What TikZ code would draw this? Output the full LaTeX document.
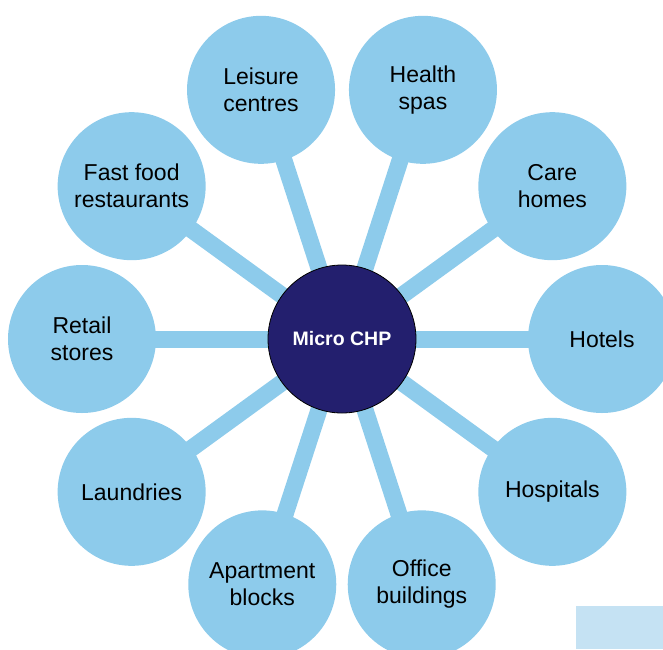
\documentclass[tikz,border=0pt]{standalone}
\usepackage{fontspec}
\setmainfont{Liberation Sans}
\usepackage{tikz}
\usetikzlibrary{positioning, calc, backgrounds}
\usepackage{xcolor}
\definecolor{siteblue}{RGB}{141,203,235}
\definecolor{chpnavy}{RGB}{35,31,110}
\definecolor{paleblue}{RGB}{197,226,243}

\begin{document}
\begin{tikzpicture}[x=1pt, y=1pt,
  hub/.style={circle, draw=black, line width=0.8pt, fill=chpnavy, minimum size=148pt, inner sep=0pt, text=white, font=\fontsize{19.5}{23}\selectfont\bfseries},
  site/.style={circle, fill=siteblue, minimum size=148pt, inner sep=0pt, align=center, font=\fontsize{23}{27}\selectfont},
  spoke/.style={draw=siteblue, line width=17pt}
]
    \useasboundingbox (-342,-310) rectangle (321,339);

    % Hub
    \node[hub] (chp) at (0,0) {Micro CHP};

    % Sites round the hub
    \node[site] (hotels) at (0:260) {Hotels};
    \node[site] (care) at (36:260) {Care\\homes};
    \node[site] (health) at (72:262) {Health\\spas};
    \node[site] (leisure) at (108:262) {Leisure\\centres};
    \node[site] (fastfood) at (144:260) {Fast food\\restaurants};
    \node[site] (retail) at (180:260) {Retail\\stores};
    \node[site] (laundries) at (216:260) {Laundries};
    \node[site] (apartment) at (252:258) {Apartment\\blocks};
    \node[site] (office) at (288:258) {Office\\buildings};
    \node[site] (hospitals) at (324:260) {Hospitals};

    % Spokes behind the circles
    \begin{scope}[on background layer]
    \draw[spoke] (chp.center) -- (hotels.center);
    \draw[spoke] (chp.center) -- (care.center);
    \draw[spoke] (chp.center) -- (health.center);
    \draw[spoke] (chp.center) -- (leisure.center);
    \draw[spoke] (chp.center) -- (fastfood.center);
    \draw[spoke] (chp.center) -- (retail.center);
    \draw[spoke] (chp.center) -- (laundries.center);
    \draw[spoke] (chp.center) -- (apartment.center);
    \draw[spoke] (chp.center) -- (office.center);
    \draw[spoke] (chp.center) -- (hospitals.center);
    \end{scope}

    % Pale box in the corner
    \fill[paleblue] (234,-267) rectangle (321,-310);

\end{tikzpicture}
\end{document}
